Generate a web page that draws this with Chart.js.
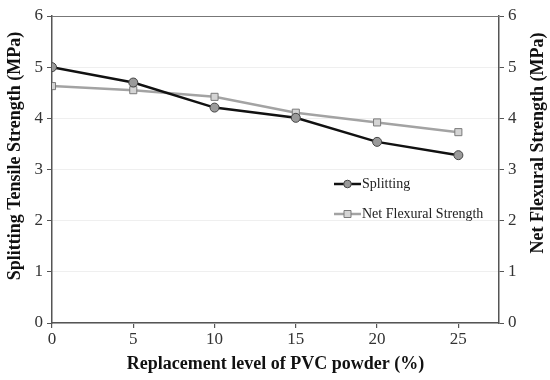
<!DOCTYPE html>
<html>
<head>
<meta charset="utf-8">
<script src="https://cdn.jsdelivr.net/npm/chart.js@4/dist/chart.umd.min.js"></script>
<style>
  html,body{margin:0;padding:0;background:#fff;}
  #wrap{width:550px;height:380px;}
</style>
</head>
<body>
<div id="wrap"><canvas id="c" width="550" height="380"></canvas></div>
<script>
const replacementLevels = [0, 5, 10, 15, 20, 25];
const splittingValues = [5.00, 4.70, 4.21, 4.01, 3.54, 3.28];
const flexuralValues = [4.63, 4.55, 4.42, 4.11, 3.92, 3.73];
const yTickValues = [0, 1, 2, 3, 4, 5, 6];
const xTickValues = [0, 5, 10, 15, 20, 25];
const leftTitle = 'Splitting Tensile Strength (MPa)';
const rightTitle = 'Net Flexural Strength (MPa)';

const FONT = "'Liberation Serif', 'Times New Roman', serif";

function drawVTitle(ctx, text, x, y, size) {
  ctx.save();
  ctx.translate(x, y);
  ctx.rotate(-Math.PI / 2);
  ctx.fillStyle = '#111';
  ctx.font = "bold " + size + "px " + FONT;
  ctx.textAlign = 'center';
  ctx.textBaseline = 'middle';
  ctx.fillText(text, 0, 0);
  ctx.restore();
}

const legendPlugin = {
  id: 'inLegend',
  afterDatasetsDraw(chart) {
    const ctx = chart.ctx;
    const items = [
      {label: 'Splitting', ds: chart.data.datasets[0], x: 334, y: 184},
      {label: 'Net Flexural Strength', ds: chart.data.datasets[1], x: 334, y: 214}
    ];
    ctx.save();
    items.forEach(it => {
      ctx.strokeStyle = it.ds.borderColor;
      ctx.lineWidth = it.ds.borderWidth;
      ctx.beginPath();
      ctx.moveTo(it.x, it.y);
      ctx.lineTo(it.x + 27, it.y);
      ctx.stroke();
      ctx.fillStyle = it.ds.pointBackgroundColor;
      ctx.strokeStyle = it.ds.pointBorderColor;
      ctx.lineWidth = 1;
      ctx.beginPath();
      if (it.ds.pointStyle === 'rect') {
        ctx.rect(it.x + 13.5 - 3.5, it.y - 3.5, 7, 7);
      } else {
        ctx.arc(it.x + 13.5, it.y, 3.8, 0, Math.PI * 2);
      }
      ctx.fill();
      ctx.stroke();
      ctx.fillStyle = '#222';
      ctx.font = "14px " + FONT;
      ctx.textBaseline = 'middle';
      ctx.textAlign = 'left';
      ctx.fillText(it.label, it.x + 28, it.y);
    });
    const a = chart.chartArea;
    // top border
    ctx.strokeStyle = '#777';
    ctx.lineWidth = 1.2;
    ctx.beginPath();
    ctx.moveTo(a.left, a.top + 0.5);
    ctx.lineTo(a.right, a.top + 0.5);
    ctx.stroke();
    drawVTitle(ctx, leftTitle, 15, 156, 18);
    drawVTitle(ctx, rightTitle, 538, 143, 18);
    ctx.restore();
  }
};

const toPoints = (vals) => replacementLevels.map((x, i) => ({x: x, y: vals[i]}));

new Chart(document.getElementById('c'), {
  type: 'line',
  data: {
    datasets: [
      {
        label: 'Splitting',
        data: toPoints(splittingValues),
        yAxisID: 'y',
        borderColor: '#111111',
        borderWidth: 2.5,
        pointStyle: 'circle',
        pointRadius: 4.5,
        pointBackgroundColor: '#9a9a9a',
        pointBorderColor: '#444444',
        pointBorderWidth: 1,
        tension: 0
      },
      {
        label: 'Net Flexural Strength',
        data: toPoints(flexuralValues),
        yAxisID: 'y2',
        borderColor: '#a3a3a3',
        borderWidth: 2.5,
        pointStyle: 'rect',
        pointRadius: 5,
        pointBackgroundColor: '#d4d4d4',
        pointBorderColor: '#7a7a7a',
        pointBorderWidth: 1,
        tension: 0
      }
    ]
  },
  options: {
    responsive: false,
    animation: false,
    layout: {padding: {top: 16, left: 0, right: 0, bottom: 0}},
    plugins: {legend: {display: false}, tooltip: {enabled: false}},
    scales: {
      x: {
        type: 'linear',
        min: 0,
        max: 27.5,
        afterBuildTicks(scale) {
          scale.ticks = xTickValues.map(v => ({value: v}));
        },
        afterFit(scale) { scale.height = 57; },
        grid: {drawOnChartArea: false, tickColor: '#555', tickLength: 5, lineWidth: 1.2},
        border: {color: '#555', width: 1.5},
        ticks: {color: '#333', font: {family: FONT, size: 17}, padding: 1, maxRotation: 0},
        title: {display: true, text: 'Replacement level of PVC powder (%)', color: '#111',
                font: {family: FONT, size: 18, weight: 'bold'}, padding: {top: 0, bottom: 5}}
      },
      y: {
        position: 'left',
        min: 0,
        max: 6,
        afterBuildTicks(scale) {
          scale.ticks = yTickValues.map(v => ({value: v}));
        },
        afterFit(scale) { scale.width = 52; },
        grid: {color: '#efefef', tickColor: '#555', tickLength: 5, lineWidth: 1},
        border: {color: '#555', width: 1.5},
        ticks: {color: '#333', font: {family: FONT, size: 17}, padding: 4},
        title: {display: false}
      },
      y2: {
        position: 'right',
        min: 0,
        max: 6,
        afterBuildTicks(scale) {
          scale.ticks = yTickValues.map(v => ({value: v}));
        },
        afterFit(scale) { scale.width = 51; },
        grid: {drawOnChartArea: false, tickColor: '#555', tickLength: 5, lineWidth: 1},
        border: {color: '#555', width: 1.5},
        ticks: {color: '#333', font: {family: FONT, size: 17}, padding: 4},
        title: {display: false}
      }
    }
  },
  plugins: [legendPlugin]
});
</script>
</body>
</html>
